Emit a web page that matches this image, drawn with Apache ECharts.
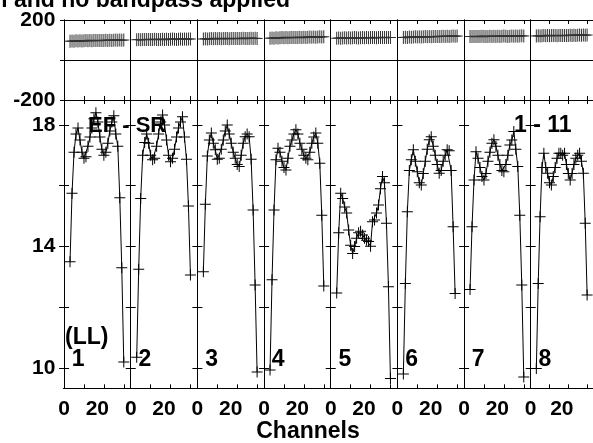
<!DOCTYPE html>
<html>
<head>
<meta charset="utf-8">
<script src="https://cdn.jsdelivr.net/npm/echarts@6/dist/echarts.min.js"></script>
<style>
html,body{margin:0;padding:0;background:#fff;}
#chart{width:593px;height:443px;}
</style>
</head>
<body>
<div id="chart"></div>
<script>
// ---- data ----
const channels = [3,4,5,6,7,8,9,10,11,12,13,14,15,16,17,18,19,20,21,22,23,24,25,26,27,28,29,30];
const ifLabels = ['1','2','3','4','5','6','7','8'];
const xTickLabels = [0, 20];
const ampTickLabels = [10, 14, 18];
const ampTicks = [10, 12, 14, 16, 18];
const phaseTickLabels = [-200, 200];

const amp1 = [13.5,15.75,17.1,17.7,17.9,17.5,17.1,16.9,16.95,17.3,17.6,17.9,18.2,18.4,18.1,17.6,17.2,17.0,17.1,17.4,17.8,18.1,18.3,17.7,17.3,15.6,13.3,10.2];
const amp2 = [10.35,13.25,15.58,17.0,17.42,17.7,17.4,17.0,16.85,16.9,17.3,17.7,18.1,18.33,18.0,17.5,17.0,16.79,16.9,17.2,17.6,17.9,18.1,18.27,17.6,16.87,15.33,13.06];
const amp3 = [13.17,15.39,16.98,17.5,17.73,17.4,17.18,16.87,16.9,17.2,17.5,17.8,18.0,17.7,17.4,17.1,16.9,16.7,16.63,17.0,17.4,17.61,17.7,17.61,16.87,15.2,12.73,9.87];
const amp4 = [9.93,12.9,15.2,16.85,17.23,17.1,16.8,16.6,16.52,16.9,17.3,17.5,17.7,17.84,17.7,17.4,17.2,17.0,16.9,16.85,17.1,17.4,17.6,17.73,17.4,16.74,15.03,12.7];
const amp5 = [12.47,14.45,15.75,15.58,15.3,15.1,14.54,14.04,13.77,14.0,14.27,14.45,14.5,14.38,14.27,14.2,14.16,14.01,14.81,14.87,15.1,15.36,15.9,16.3,16.1,14.76,12.67,9.65];
const amp6 = [9.8,12.78,15.14,16.5,16.85,17.18,16.8,16.46,16.1,16.02,16.4,16.8,17.2,17.51,17.61,17.3,17.0,16.7,16.41,16.5,16.8,17.0,17.18,17.15,16.5,14.65,12.45,null];
const amp7 = [12.58,14.65,16.19,17.12,16.9,16.6,16.3,16.19,16.4,16.8,17.1,17.4,17.51,17.3,17.0,16.7,16.5,16.46,16.7,17.0,17.34,17.5,17.78,17.2,16.63,15.03,12.73,9.7];
const amp8 = [9.98,12.78,14.98,16.6,17.07,16.6,16.41,16.1,16.02,16.3,16.6,16.9,17.07,17.07,17.0,17.07,16.7,16.4,16.19,16.4,16.7,16.9,17.0,17.07,16.8,16.41,14.76,12.4];

const ph1 = [94,95,94,96,95,96,95,96,97,96,97,96,97,98,97,98,97,98,99,98,99,98,99,100,99,100,99,100];
const ph2 = [101,102,101,102,103,102,103,102,103,104,103,102,103,104,103,104,103,104,105,104,103,104,105,104,105,104,105,105];
const ph3 = [105,106,105,106,107,106,107,106,107,106,107,108,107,106,107,108,107,108,107,108,109,108,107,108,109,108,109,108];
const ph4 = [109,110,109,111,110,111,112,111,112,111,112,113,112,113,112,114,113,114,113,114,115,114,115,114,115,116,115,116];
const ph5 = [109,110,109,110,111,110,111,110,111,112,111,110,111,112,111,112,111,112,113,112,111,112,113,112,113,112,113,113];
const ph6 = [113,114,113,115,114,115,116,115,116,115,116,117,116,117,116,118,117,118,117,118,119,118,119,118,119,120,119,120];
const ph7 = [117,118,117,118,117,118,119,118,117,118,119,118,119,118,119,118,119,120,119,118,119,120,119,120,119,120,121,120];
const ph8 = [120,121,120,121,122,121,122,121,122,123,122,121,122,123,122,123,122,123,124,123,124,123,124,125,124,125,124,125];

const ampSets = [amp1, amp2, amp3, amp4, amp5, amp6, amp7, amp8];
const phSets = [ph1, ph2, ph3, ph4, ph5, ph6, ph7, ph8];

// ---- layout ----
const FONT = '"Liberation Sans", Arial, Helvetica, sans-serif';
const PL = 63.33, PW = 66.667;
const PH_TOP = 20, PH_H = 80;
const AMP_TOP = 100, AMP_H = 288.33;
const XMIN = -0.37, XMAX = 33.13;
const AMIN = 9.33, AMAX = 18.82;
const CROSS = 'path://M0,5H11V6H0Z M5,0H6V11H5Z';
const PCROSS = 'path://M0,6H11V7H0Z M5,0H6V13H5Z';

const grids = [], xAxes = [], yAxes = [], series = [];

for (let i = 0; i < 8; i++) {
  const left = PL + i * PW;
  grids.push({ left: left, top: AMP_TOP, width: PW, height: AMP_H, containLabel: false });
  grids.push({ left: left, top: PH_TOP, width: PW, height: PH_H, containLabel: false });
  const ga = 2 * i, gp = 2 * i + 1;
  const xBase = (gi, pos, labels) => ({
    type: 'value', gridIndex: gi, position: pos, min: XMIN, max: XMAX,
    axisLine: { show: true, onZero: false, lineStyle: { color: '#000', width: 1 } },
    axisTick: { show: true, inside: true, length: 4, customValues: [10, 20, 30], lineStyle: { color: '#000', width: 1 } },
    splitLine: { show: false },
    axisLabel: labels ? {
      show: true, customValues: xTickLabels, margin: 10,
      formatter: v => v === 20 ? '{s|' + v + '}' : '{n|' + v + '}',
      rich: {
        s: { fontFamily: FONT, fontWeight: 'bold', fontSize: 21, color: '#000', padding: [0, 13, 0, 0] },
        n: { fontFamily: FONT, fontWeight: 'bold', fontSize: 21, color: '#000' }
      }
    } : { show: false }
  });
  xAxes.push(xBase(ga, 'bottom', true));
  xAxes.push(xBase(ga, 'top', false));
  xAxes.push(xBase(gp, 'bottom', false));
  xAxes.push(xBase(gp, 'top', false));

  const labStyle = { fontFamily: FONT, fontWeight: 'bold', fontSize: 21, color: '#000' };
  yAxes.push({
    type: 'value', gridIndex: ga, position: 'left', min: AMIN, max: AMAX,
    axisLine: { show: true, lineStyle: { color: '#000', width: 1 } },
    axisTick: { show: true, inside: true, length: 5, customValues: ampTicks, lineStyle: { color: '#000', width: 1 } },
    splitLine: { show: false },
    axisLabel: i === 0 ? Object.assign({ show: true, customValues: ampTickLabels, margin: 8 }, labStyle) : { show: false }
  });
  yAxes.push({
    type: 'value', gridIndex: ga, position: 'right', min: AMIN, max: AMAX,
    axisLine: { show: true, lineStyle: { color: '#000', width: 1 } },
    axisTick: { show: true, inside: true, length: 5, customValues: ampTicks, lineStyle: { color: '#000', width: 1 } },
    splitLine: { show: false }, axisLabel: { show: false }
  });
  yAxes.push({
    type: 'value', gridIndex: gp, position: 'left', min: -200, max: 200, interval: 200,
    axisLine: { show: true, lineStyle: { color: '#000', width: 1 } },
    axisTick: { show: true, inside: true, length: 4, lineStyle: { color: '#000', width: 1 } },
    splitLine: { show: true, lineStyle: { color: '#000', width: 1 } },
    axisLabel: i === 0 ? Object.assign({ show: true, customValues: phaseTickLabels, margin: 8 }, labStyle) : { show: false }
  });
  yAxes.push({
    type: 'value', gridIndex: gp, position: 'right', min: -200, max: 200, interval: 200,
    axisLine: { show: true, lineStyle: { color: '#000', width: 1 } },
    axisTick: { show: true, inside: true, length: 4, lineStyle: { color: '#000', width: 1 } },
    splitLine: { show: false }, axisLabel: { show: false }
  });

  series.push({
    type: 'line', xAxisIndex: 4 * i, yAxisIndex: 4 * i,
    data: channels.map((c, j) => [c, ampSets[i][j]]),
    symbol: CROSS, symbolSize: 11, showSymbol: true, connectNulls: false,
    lineStyle: { color: '#000', width: 1 }, itemStyle: { color: '#000' },
    emphasis: { disabled: true }, animation: false, silent: true, z: 3
  });
  series.push({
    type: 'line', xAxisIndex: 4 * i + 2, yAxisIndex: 4 * i + 2,
    data: channels.map((c, j) => [c, phSets[i][j]]),
    symbol: PCROSS, symbolSize: [11, 13], showSymbol: true,
    lineStyle: { color: '#000', width: 1.5 }, itemStyle: { color: '#333' },
    emphasis: { disabled: true }, animation: false, silent: true, z: 3
  });
}

const txt = (t, x, y, size, align) => ({
  type: 'text', x: x, y: y, silent: true, z: 10,
  style: { text: t, fill: '#000', font: 'bold ' + size + 'px ' + FONT, align: align || 'left', verticalAlign: 'middle' }
});

const graphics = [
  txt('l and no bandpass applied', 290, 0.5, 23, 'right'),
  txt('Channels', 308, 432, 23, 'center'),
  txt('EF - SR', 88, 126, 22),
  txt('1 - 11', 514, 126, 23),
  txt('(LL)', 65, 338, 23)
];
ifLabels.forEach((l, i) => graphics.push(txt(l, PL + i * PW + 8.5, 360, 23)));

const chart = echarts.init(document.getElementById('chart'), null, { renderer: 'canvas' });
chart.setOption({
  animation: false,
  backgroundColor: '#fff',
  grid: grids,
  xAxis: xAxes,
  yAxis: yAxes,
  series: series,
  graphic: graphics
});
</script>
</body>
</html>
